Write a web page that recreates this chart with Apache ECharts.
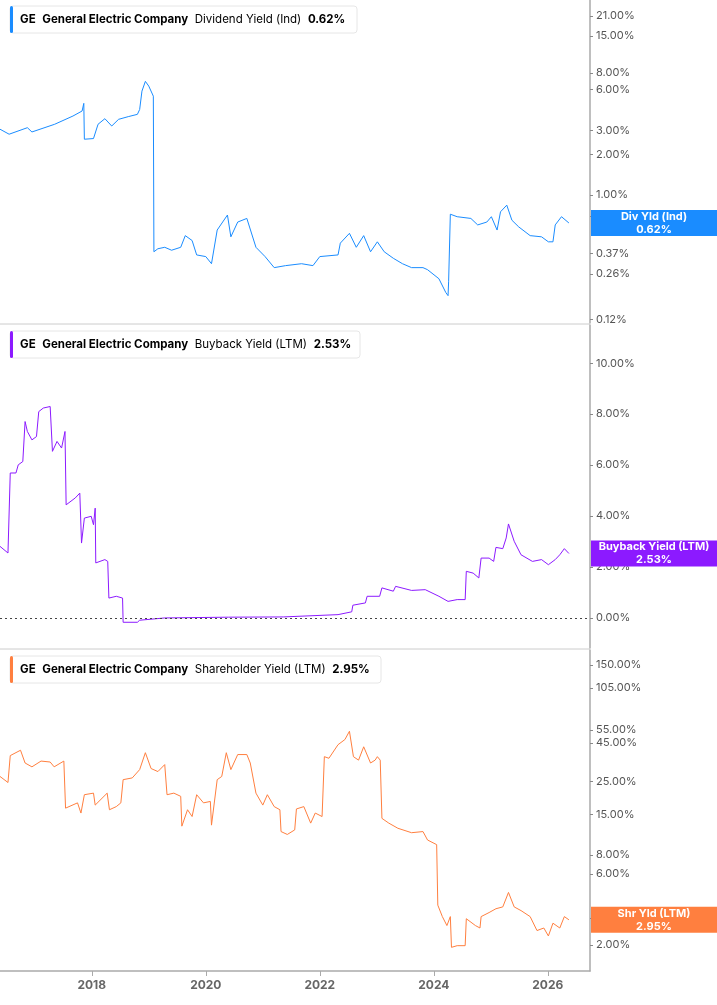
<!DOCTYPE html>
<html><head><meta charset="utf-8">
<script src="https://cdn.jsdelivr.net/npm/echarts@6/dist/echarts.min.js"></script>
<style>html,body{margin:0;padding:0;background:#fff}#c{width:717px;height:1005px}</style>
</head><body><div id="c"></div>
<script>
const divYield = [[2016.39,3.06],[2016.55,2.81],[2016.87,3.14],[2016.95,2.92],[2017.35,3.33],[2017.67,3.83],[2017.83,4.17],[2017.86,4.75],[2017.87,2.58],[2018.03,2.61],[2018.11,3.33],[2018.23,3.66],[2018.35,3.23],[2018.47,3.62],[2018.64,3.79],[2018.80,3.94],[2018.84,4.28],[2018.88,5.85],[2018.94,6.91],[2019.00,6.37],[2019.08,5.37],[2019.09,0.38],[2019.16,0.40],[2019.28,0.41],[2019.40,0.39],[2019.56,0.41],[2019.64,0.50],[2019.76,0.46],[2019.84,0.36],[2020.00,0.35],[2020.10,0.31],[2020.20,0.55],[2020.38,0.71],[2020.44,0.49],[2020.56,0.63],[2020.72,0.67],[2020.88,0.41],[2021.04,0.35],[2021.20,0.29],[2021.40,0.30],[2021.68,0.31],[2021.88,0.30],[2022.00,0.35],[2022.32,0.36],[2022.36,0.44],[2022.52,0.52],[2022.64,0.41],[2022.77,0.50],[2022.89,0.38],[2023.01,0.45],[2023.13,0.38],[2023.29,0.34],[2023.45,0.31],[2023.61,0.29],[2023.81,0.29],[2023.89,0.28],[2024.09,0.24],[2024.21,0.19],[2024.25,0.18],[2024.26,0.23],[2024.29,0.72],[2024.41,0.69],[2024.65,0.67],[2024.77,0.60],[2024.93,0.63],[2025.01,0.69],[2025.11,0.55],[2025.17,0.75],[2025.28,0.84],[2025.37,0.65],[2025.49,0.58],[2025.69,0.50],[2025.89,0.49],[2026.01,0.45],[2026.09,0.45],[2026.13,0.60],[2026.24,0.69],[2026.37,0.62]];
const buybackYield = [[2016.39,2.81],[2016.53,2.55],[2016.57,5.69],[2016.67,5.69],[2016.71,6.01],[2016.79,6.14],[2016.83,7.71],[2016.87,7.32],[2016.95,6.99],[2017.03,7.12],[2017.07,8.10],[2017.15,8.24],[2017.27,8.30],[2017.31,6.54],[2017.39,6.93],[2017.47,6.67],[2017.53,7.32],[2017.55,4.44],[2017.71,4.71],[2017.79,4.90],[2017.82,2.94],[2017.87,3.92],[2017.99,3.99],[2018.03,3.66],[2018.06,4.31],[2018.07,2.16],[2018.23,2.29],[2018.28,2.22],[2018.30,0.78],[2018.43,0.85],[2018.54,0.78],[2018.55,-0.17],[2018.80,-0.17],[2018.84,-0.09],[2019.28,0],[2020.40,0.03],[2021.36,0.04],[2022.32,0.13],[2022.56,0.24],[2022.58,0.50],[2022.80,0.59],[2022.83,0.85],[2023.05,0.85],[2023.09,1.18],[2023.29,1.05],[2023.33,1.24],[2023.61,1.08],[2023.85,1.11],[2024.09,0.85],[2024.25,0.65],[2024.41,0.72],[2024.55,0.72],[2024.57,1.83],[2024.69,1.76],[2024.79,1.57],[2024.83,2.35],[2024.97,2.35],[2025.05,2.22],[2025.09,2.77],[2025.21,2.72],[2025.27,3.14],[2025.31,3.69],[2025.41,3.01],[2025.53,2.48],[2025.73,2.22],[2025.89,2.29],[2026.01,2.09],[2026.13,2.29],[2026.21,2.48],[2026.29,2.72],[2026.37,2.53]];
const shrYield = [[2016.39,26.9],[2016.53,24.5],[2016.57,37.1],[2016.75,40.3],[2016.83,33.1],[2016.95,31.2],[2017.11,34.1],[2017.27,33.6],[2017.34,31.2],[2017.51,34.1],[2017.54,16.5],[2017.75,17.9],[2017.81,15.3],[2017.87,20.3],[2018.03,20.8],[2018.06,17.3],[2018.27,20.8],[2018.31,16.1],[2018.43,16.9],[2018.51,17.9],[2018.55,25.6],[2018.71,26.3],[2018.84,29.9],[2018.94,38.8],[2019.04,30.4],[2019.16,29.0],[2019.28,32.3],[2019.32,20.3],[2019.44,20.8],[2019.56,19.8],[2019.58,12.5],[2019.68,16.1],[2019.76,14.5],[2019.84,20.3],[2019.96,17.9],[2020.08,18.3],[2020.10,12.7],[2020.20,25.6],[2020.28,26.9],[2020.36,38.8],[2020.44,29.9],[2020.56,37.7],[2020.72,37.7],[2020.78,33.1],[2020.88,20.8],[2021.00,17.3],[2021.08,20.3],[2021.20,16.9],[2021.30,16.1],[2021.32,11.5],[2021.43,11.0],[2021.56,11.8],[2021.59,16.3],[2021.72,16.9],[2021.84,13.1],[2021.92,15.3],[2022.04,14.5],[2022.08,36.5],[2022.16,35.6],[2022.32,43.9],[2022.44,47.5],[2022.52,54.0],[2022.59,36.5],[2022.68,34.6],[2022.77,42.5],[2022.89,33.1],[2022.97,34.6],[2023.01,36.5],[2023.06,34.6],[2023.09,14.1],[2023.21,13.1],[2023.37,12.1],[2023.61,11.3],[2023.81,11.5],[2023.89,10.1],[2024.05,9.4],[2024.07,3.7],[2024.15,3.1],[2024.23,2.7],[2024.29,3.1],[2024.31,1.93],[2024.41,1.98],[2024.55,1.98],[2024.57,3.0],[2024.73,2.7],[2024.81,2.6],[2024.83,3.1],[2024.97,3.3],[2025.09,3.5],[2025.21,3.6],[2025.31,4.5],[2025.41,3.6],[2025.53,3.4],[2025.69,3.1],[2025.81,2.5],[2025.93,2.6],[2026.01,2.3],[2026.09,2.8],[2026.21,2.6],[2026.29,3.1],[2026.37,2.95]];
const divTicks = [21,15,8,6,3,2,1,0.69,0.37,0.26,0.14,0.12];
const buyTicks = [0,2,4,6,8,10];
const shrTicks = [150,105,55,45,25,15,8,6,3,2];
const yearTicks = [2018,2020,2022,2024,2026];
const panels = [
  {name:'Dividend Yield (Ind)', last:'0.62%', tag:'Div Yld (Ind)', color:'#1a8cff', data:divYield, ticks:divTicks},
  {name:'Buyback Yield (LTM)', last:'2.53%', tag:'Buyback Yield (LTM)', color:'#8c1aff', data:buybackYield, ticks:buyTicks},
  {name:'Shareholder Yield (LTM)', last:'2.95%', tag:'Shr Yld (LTM)', color:'#ff7f3f', data:shrYield, ticks:shrTicks}
];
const X0=2016.39, X1=2026.74;
const grids=[{left:0,right:127,top:0,height:323},{left:0,right:127,top:325,height:323},{left:0,right:127,top:650,height:321}];
const yr=[[0.113,27.6,'log'],[-1.18,11.5,'value'],[1.34,189,'log']];
const chart=echarts.init(document.getElementById('c'));
const font='Inter';
const opt={animation:false,textStyle:{fontFamily:font},grid:grids,
 xAxis:grids.map((g,i)=>({type:'value',gridIndex:i,min:X0,max:X1,splitLine:{show:false},
   axisLine:{show:i===2,lineStyle:{color:'#aaa',width:1.5}},
   axisTick:{show:i===2,customValues:yearTicks,length:5,lineStyle:{color:'#aaa'}},
   axisLabel:{show:i===2,customValues:yearTicks,color:'#666',fontSize:12,fontWeight:'bold',formatter:v=>String(Math.round(v))}})),
 yAxis:panels.map((p,i)=>({type:yr[i][2],logBase:10,gridIndex:i,position:'right',min:yr[i][0],max:yr[i][1],
   splitLine:{show:false},axisLine:{show:true,lineStyle:{color:'#aaa',width:1.5}},
   axisTick:{show:true,customValues:p.ticks,length:3,inside:false,lineStyle:{color:'#888'}},
   axisLabel:{customValues:p.ticks,showMinLabel:true,showMaxLabel:true,hideOverlap:false,color:'#555',fontSize:11,margin:6,formatter:v=>v.toFixed(2)+'%'}})),
 series:panels.map((p,i)=>({type:'line',xAxisIndex:i,yAxisIndex:i,data:p.data,showSymbol:false,
   lineStyle:{color:p.color,width:1},
   markLine: i===1?{silent:true,symbol:'none',label:{show:false},lineStyle:{color:'#444',type:[2,3],width:1},data:[{yAxis:0}]}:undefined})),
 graphic:[]};
chart.setOption(opt);
const g=[];
g.push({type:'line',shape:{x1:0,y1:324,x2:590,y2:324},style:{stroke:'#ccc',lineWidth:1}});
g.push({type:'line',shape:{x1:0,y1:649,x2:590,y2:649},style:{stroke:'#ccc',lineWidth:1}});
panels.forEach((p,i)=>{
  const top=grids[i].top+6;
  const rich={b:{fontWeight:'bold',fontSize:11.5,fontFamily:font,color:'#111'},n:{fontSize:11.5,fontFamily:font,color:'#111'}};
  const txt='{b|GE}  {b|General Electric Company}  {n|'+p.name+'}  {b|'+p.last+'}';
  const w=[347,350,371][i];
  g.push({type:'rect',shape:{x:10,y:top,width:w,height:27,r:3},style:{fill:'#fff',stroke:'#e6e6e6',lineWidth:1},z:10});
  g.push({type:'rect',shape:{x:10,y:top,width:3,height:27,r:1.5},style:{fill:p.color},z:11});
  g.push({type:'text',x:20,y:top+13.5,style:{text:txt,rich:rich,verticalAlign:'middle'},z:11});
  const last=p.data[p.data.length-1];
  const py=chart.convertToPixel({xAxisIndex:i,yAxisIndex:i},last)[1];
  g.push({type:'rect',shape:{x:591,y:py-13,width:126,height:26},style:{fill:p.color},z:20});
  g.push({type:'text',x:654,y:py,style:{text:p.tag+'\n'+p.last,fill:'#fff',fontWeight:'bold',fontSize:11,fontFamily:font,align:'center',verticalAlign:'middle',lineHeight:13},z:21});
});
chart.setOption({graphic:g});
</script></body></html>
